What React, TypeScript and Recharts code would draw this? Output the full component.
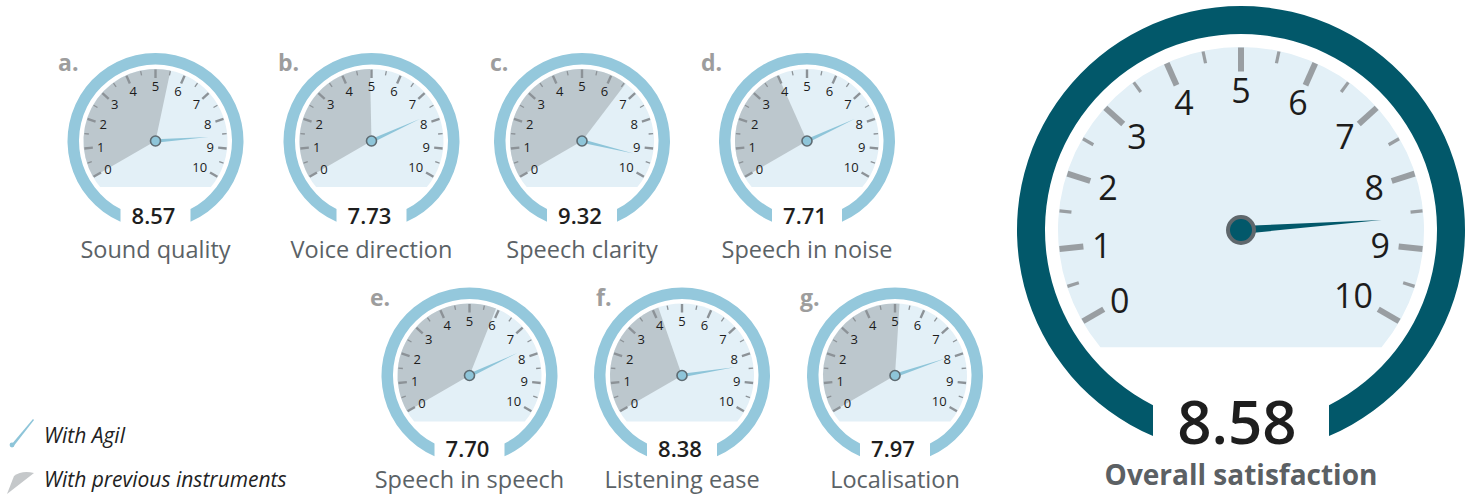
import { PieChart, Pie } from "recharts";

// dial values
const LETTERS = ["a.", "b.", "c.", "d.", "e.", "f.", "g."];
const TITLES = [
  "Sound quality",
  "Voice direction",
  "Speech clarity",
  "Speech in noise",
  "Speech in speech",
  "Listening ease",
  "Localisation",
];
const WITH_AGIL = [8.57, 7.73, 9.32, 7.71, 7.7, 8.38, 7.97];
const WITH_PREVIOUS = [5.5, 4.95, 6.55, 4.0, 5.9, 4.2, 5.15];
const OVERALL_TITLE = "Overall satisfaction";
const OVERALL_AGIL = 8.58;
const SCALE = [0, 1, 2, 3, 4, 5, 6, 7, 8, 9, 10];
const LEGEND = ["With Agil", "With previous instruments"];

// where the small dials sit
const SMALL_POS = [
  { cx: 155.5, cy: 141, letterX: 58, valueDy: 83, titleDy: 117 },
  { cx: 371.5, cy: 141, letterX: 278, valueDy: 83, titleDy: 117 },
  { cx: 582, cy: 141, letterX: 490, valueDy: 83, titleDy: 117 },
  { cx: 807, cy: 141, letterX: 701, valueDy: 83, titleDy: 117 },
  { cx: 469.5, cy: 375.5, letterX: 370, valueDy: 81.5, titleDy: 112 },
  { cx: 682, cy: 375.5, letterX: 596, valueDy: 81.5, titleDy: 112 },
  { cx: 895, cy: 375.5, letterX: 800, valueDy: 81.5, titleDy: 112 },
];
const BIG_POS = { cx: 1241, cy: 230 };

const FONT = "'Open Sans', 'Noto Sans', sans-serif";
const DISK = "#e3f0f7";
const PREV = "#bcc7cd";
const LIGHT = "#94c8dc";
const DARK = "#02586a";

const START = 210;
const END = -30;
const RING_START = 244.5;
const RING_END = -64.5;
const DISK_START = 219.8;
const DISK_END = -39.8;

type Dial = {
  outer: number;
  ringInner: number;
  cut: number;
  disk: number;
  major: number;
  minor: number;
  majorW: number;
  minorW: number;
  tickColor: string;
  labelR: number;
  font: number;
  needle: number;
  needleW: number;
  hub: number;
  hubW: number;
  ring: string;
  needleColor: string;
  hubStroke: string;
};

const SMALL: Dial = {
  outer: 88,
  ringInner: 76.5,
  cut: 35,
  disk: 72,
  major: 8.5,
  minor: 4.5,
  majorW: 2.4,
  minorW: 1.3,
  tickColor: "#8c9297",
  labelR: 55,
  font: 13,
  needle: 53,
  needleW: 1.8,
  hub: 5,
  hubW: 1.6,
  ring: LIGHT,
  needleColor: "#8ec5d9",
  hubStroke: "#5e6b72",
};

const BIG: Dial = {
  outer: 224,
  ringInner: 196,
  cut: 88,
  disk: 183,
  major: 24,
  minor: 12,
  majorW: 6,
  minorW: 3.2,
  tickColor: "#999ea2",
  labelR: 140,
  font: 34,
  needle: 141,
  needleW: 4,
  hub: 13,
  hubW: 4,
  ring: DARK,
  needleColor: DARK,
  hubStroke: "#5f676c",
};

const RAD = Math.PI / 180;
const polar = (cx: number, cy: number, r: number, a: number) => [
  cx + r * Math.cos(-a * RAD),
  cy + r * Math.sin(-a * RAD),
];

// ring with the flat, vertical ends of the original
const ringShape = (d: Dial, texts: (p: any) => any) => (p: any) => {
  const { cx, cy } = p;
  const R = p.outerRadius;
  const r = p.innerRadius;
  const yo = Math.sqrt(R * R - d.cut * d.cut);
  const yi = Math.sqrt(r * r - d.cut * d.cut);
  return (
    <g>
      <path
        d={`M${cx - d.cut},${cy + yo} A${R},${R} 0 1 1 ${cx + d.cut},${cy + yo} L${cx + d.cut},${cy + yi} A${r},${r} 0 1 0 ${cx - d.cut},${cy + yi} Z`}
        fill={d.ring}
      />
      {texts(p)}
    </g>
  );
};

const diskShape = (p: any) => {
  const r = p.outerRadius;
  const [x1, y1] = polar(p.cx, p.cy, r, p.startAngle);
  const [x2, y2] = polar(p.cx, p.cy, r, p.endAngle);
  return <path d={`M${x1},${y1} A${r},${r} 0 1 1 ${x2},${y2} Z`} fill={DISK} />;
};

const prevShape = (p: any) => {
  if (p.index !== 0) return null;
  const r = p.outerRadius;
  const [x1, y1] = polar(p.cx, p.cy, r, p.startAngle);
  const [x2, y2] = polar(p.cx, p.cy, r, p.endAngle);
  const large = p.startAngle - p.endAngle > 180 ? 1 : 0;
  return <path d={`M${p.cx},${p.cy} L${x1},${y1} A${r},${r} 0 ${large} 1 ${x2},${y2} Z`} fill={PREV} />;
};

const tickShape = (d: Dial) => (p: any) => {
  const { cx, cy, index } = p;
  const mark = (a: number, len: number, w: number, k: string) => {
    const [x1, y1] = polar(cx, cy, d.disk - 0.5, a);
    const [x2, y2] = polar(cx, cy, d.disk - 0.5 - len, a);
    return <line key={k} x1={x1} y1={y1} x2={x2} y2={y2} stroke={d.tickColor} strokeWidth={w} />;
  };
  const label = (a: number, text: number, k: string) => {
    const s = String(text);
    const [x, y] = polar(cx, cy, d.labelR - (s.length - 1) * d.font * 0.3, a);
    return (
      <text key={k} x={x} y={y} textAnchor="middle" dominantBaseline="central" fontSize={d.font} fontFamily={FONT} fill="#1c1c1c">
        {s}
      </text>
    );
  };
  const out = [
    mark(p.startAngle, d.major, d.majorW, "M"),
    mark(p.midAngle, d.minor, d.minorW, "m"),
    label(p.startAngle, SCALE[index], "L"),
  ];
  if (index === SCALE.length - 2) {
    out.push(mark(p.endAngle, d.major, d.majorW, "M2"));
    out.push(label(p.endAngle, SCALE[index + 1], "L2"));
  }
  return <g>{out}</g>;
};

const needleShape = (d: Dial) => (p: any) => {
  if (p.index !== 0) return null;
  const { cx, cy } = p;
  const a = p.endAngle;
  const [tx, ty] = polar(cx, cy, d.needle, a);
  const [lx, ly] = polar(cx, cy, d.needleW, a + 90);
  const [rx, ry] = polar(cx, cy, d.needleW, a - 90);
  return (
    <g>
      <path d={`M${lx},${ly} L${tx},${ty} L${rx},${ry} Z`} fill={d.needleColor} />
      <circle cx={cx} cy={cy} r={d.hub} fill={d.needleColor} stroke={d.hubStroke} strokeWidth={d.hubW} />
    </g>
  );
};

const smallText = (i: number) => (p: any) => {
  const pos = SMALL_POS[i];
  return (
    <g fontFamily={FONT}>
      <text x={pos.letterX} y={p.cy - 70} fontSize={23} fontWeight={700} fill="#9d9d9d">
        {LETTERS[i]}
      </text>
      <text x={p.cx - 2} y={p.cy + pos.valueDy} textAnchor="middle" fontSize={22} fontWeight={600} fill="#1e1e1e">
        {WITH_AGIL[i].toFixed(2)}
      </text>
      <text x={p.cx} y={p.cy + pos.titleDy} textAnchor="middle" fontSize={23.5} fill="#5b6266">
        {TITLES[i]}
      </text>
    </g>
  );
};

const bigText = (p: any) => (
  <g fontFamily={FONT}>
    <text x={p.cx - 4} y={p.cy + 214} textAnchor="middle" fontSize={60} fontWeight={600} fill="#1e1e1e">
      {OVERALL_AGIL.toFixed(2)}
    </text>
    <text x={p.cx} y={p.cy + 255} textAnchor="middle" fontSize={28} fontWeight={700} fill="#5b6064">
      {OVERALL_TITLE}
    </text>
  </g>
);

const dialPies = (
  key: string,
  cx: number,
  cy: number,
  d: Dial,
  agil: number,
  prev: number | null,
  texts: (p: any) => any
) => {
  const common = { cx, cy, dataKey: "value", stroke: "none", fill: "none", isAnimationActive: false, labelLine: false };
  const pies = [
    <Pie key={key + "ring"} {...common} data={[{ value: 1 }]} innerRadius={d.ringInner} outerRadius={d.outer}
      startAngle={RING_START} endAngle={RING_END} label={ringShape(d, texts)} />,
    <Pie key={key + "disk"} {...common} data={[{ value: 1 }]} outerRadius={d.disk}
      startAngle={DISK_START} endAngle={DISK_END} label={diskShape} />,
  ];
  if (prev !== null) {
    pies.push(
      <Pie key={key + "prev"} {...common} data={[{ value: prev }, { value: 10 - prev }]} outerRadius={d.disk}
        startAngle={START} endAngle={END} label={prevShape} />
    );
  }
  pies.push(
    <Pie key={key + "ticks"} {...common} data={SCALE.slice(0, -1).map((v) => ({ value: 1, from: v }))}
      outerRadius={d.disk} startAngle={START} endAngle={END} label={tickShape(d)} />,
    <Pie key={key + "needle"} {...common} data={[{ value: agil }, { value: 10 - agil }]} outerRadius={d.disk}
      startAngle={START} endAngle={END} label={needleShape(d)} />
  );
  return pies;
};

export default function App() {
  return (
    <div style={{ position: "relative", width: 1470, height: 494, background: "#fff" }}>
      <style>{"body{margin:0}"}</style>
      <PieChart width={1470} height={494} margin={{ top: 0, right: 0, bottom: 0, left: 0 }}>
        {SMALL_POS.flatMap((pos, i) =>
          dialPies("g" + i, pos.cx, pos.cy, SMALL, WITH_AGIL[i], WITH_PREVIOUS[i], smallText(i))
        )}
        {dialPies("big", BIG_POS.cx, BIG_POS.cy, BIG, OVERALL_AGIL, null, bigText)}
      </PieChart>
      <svg width={320} height={84} style={{ position: "absolute", left: 0, top: 410 }} fontFamily={FONT}>
        <path d="M11,35 L33,9 L34,10 L13,37 Z" fill="#8ec5d9" />
        <circle cx={12} cy={35} r={2.4} fill="#8ec5d9" />
        <text x={44} y={33} fontSize={21} fontStyle="italic" fill="#222">{LEGEND[0]}</text>
        <path d="M7,84 L14,66 Q22,60 34,63 Z" fill="#c5c8ca" />
        <text x={44} y={77} fontSize={21} fontStyle="italic" fill="#222">{LEGEND[1]}</text>
      </svg>
    </div>
  );
}
